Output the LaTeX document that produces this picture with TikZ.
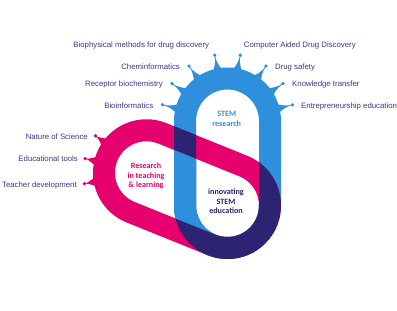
\documentclass[tikz,border=0pt]{standalone}
\usepackage{fontspec}
\setmainfont{Liberation Sans}
\newfontfamily\corefont{Carlito}
\usetikzlibrary{positioning,calc}
\definecolor{sblue}{HTML}{2E8FDD}
\definecolor{spink}{HTML}{E5006D}
\definecolor{snavy}{HTML}{2C2373}
\definecolor{slabel}{HTML}{3D368C}
\tikzset{
  band/.style={line width=22pt, line join=round},
  lbl/.style={font=\fontsize{7.8}{9}\selectfont, text=slabel, inner sep=0pt, text height=1.5ex, text depth=.25ex},
  core/.style={font=\corefont\bfseries\fontsize{8.1}{9.3}\selectfont, align=center, inner sep=0pt},
  dotend/.style={circle, inner sep=0pt, minimum size=3.6pt},
}
% band outlines, #1 = radius
\newcommand{\bluepath}[1]{($(bt)+(180:#1)$) arc[start angle=180,end angle=0,radius=#1] -- ($(bb)+(0:#1)$) arc[start angle=0,end angle=-180,radius=#1] -- cycle}
\newcommand{\pinkpath}[1]{($(pr)+(68:#1)$) arc[start angle=68,end angle=-112,radius=#1] -- ($(pl)+(-112:#1)$) arc[start angle=-112,end angle=-292,radius=#1] -- cycle}
% thorn on a band: centre, angle, colour, tip radius
\newcommand{\thorn}[4]{%
  \fill[#3] ($(#1)+(#2-6.5:50)$) .. controls ($(#1)+(#2-2:56)$) and ($(#1)+(#2-0.7:60)$) .. ($(#1)+(#2:#4)$)
    .. controls ($(#1)+(#2+0.7:60)$) and ($(#1)+(#2+2:56)$) .. ($(#1)+(#2+6.5:50)$) -- cycle;
  \draw[#3, line width=0.7pt] ($(#1)+(#2:#4-2)$) -- ($(#1)+(#2:#4+2)$);
}
\begin{document}
\begin{tikzpicture}[x=1pt, y=1pt]
  \useasboundingbox (0,0) rectangle (397,311);
  \coordinate (bt) at (227.5,190);
  \coordinate (bb) at (227.5,105.5);
  \coordinate (pr) at (bb);
  \coordinate (pl) at ($(pr)+(158:87.4)$);

  % blue loop with its thorns
  \foreach \a [count=\i] in {166,146,125,101,79,55,34,14}{
    \thorn{bt}{\a}{sblue}{65}
    \node[dotend, fill=sblue] (b\i) at ($(bt)+(\a:67)$) {};
  }
  \draw[band, sblue] \bluepath{42.5};

  % pink loop with its thorns
  \foreach \a [count=\i] in {144,167,190}{
    \thorn{pl}{\a}{spink}{61}
    \node[dotend, fill=spink] (p\i) at ($(pl)+(\a:63)$) {};
  }
  \draw[band, spink] \pinkpath{42.5};

  % overlap
  \begin{scope}
    \clip \pinkpath{53.5};
    \draw[band, snavy] \bluepath{42.5};
  \end{scope}
  \begin{scope}
    \clip \pinkpath{31.5};
    \draw[band, sblue] \bluepath{42.5};
  \end{scope}

  % labels
  \node[lbl, left=7pt of b1] (bioinf) {Bioinformatics};
  \node[lbl, left=7pt of b2] (recep) {Receptor biochemistry};
  \node[lbl, left=7pt of b3] (chem) {Cheminformatics};
  \node[lbl, above left=5pt and 4pt of b4] (biophys) {Biophysical methods for drug discovery};
  \node[lbl, above right=5pt and 2pt of b5] (cadd) {Computer Aided Drug Discovery};
  \node[lbl, right=7pt of b6] (safety) {Drug safety};
  \node[lbl, right=7pt of b7] (transfer) {Knowledge transfer};
  \node[lbl, right=6.5pt of b8] (entre) {Entrepreneurship education};
  \node[lbl, left=5.5pt of p1] (nos) {Nature of Science};
  \node[lbl, left=5pt of p2] (tools) {Educational tools};
  \node[lbl, left=5.5pt of p3] (teacher) {Teacher development};

  \node[core, text=sblue] (research) at (226.7,192) {STEM\\research};
  \node[core, text=spink] (teaching) at (146,135) {Research\\in teaching\\\& learning};
  \node[core, text=snavy] (innov) at (226,109.7) {innovating\\STEM\\education};
\end{tikzpicture}
\end{document}
